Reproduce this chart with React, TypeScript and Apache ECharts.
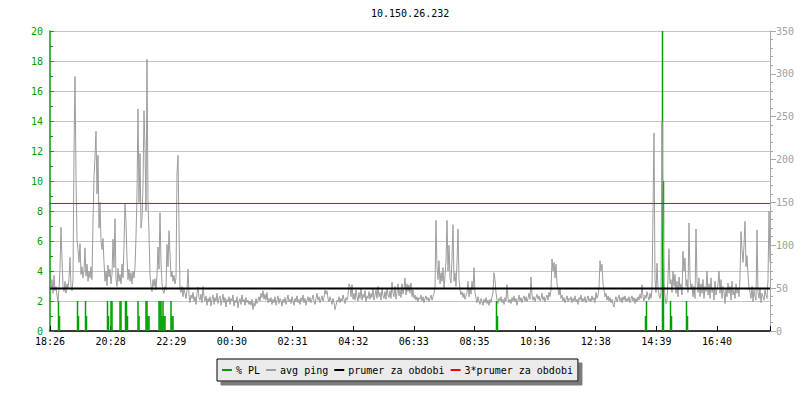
import { useEffect, useRef } from 'react';
import * as echarts from 'echarts';

const TITLE = '10.150.26.232';
const STEP_MIN = 2; // minutes between ping samples
const RANGE_MIN = 1440;
const TIME_LABELS = ['18:26', '20:28', '22:29', '00:30', '02:31', '04:32', '06:33', '08:35', '10:36', '12:38', '14:39', '16:40'];
const TICK_STEP = 1334 / 11;

// avg ping [ms], one sample every 2 minutes (20 samples per row)
const PING_MS = [
  56, 48, 60, 44, 65, 47, 52, 41, 35, 50, 72, 121, 85, 52, 46, 58, 44, 55, 49, 62,
  86, 52, 47, 60, 210, 297, 180, 107, 95, 80, 102, 66, 75, 62, 70, 97, 64, 78, 58, 70,
  62, 75, 60, 128, 180, 203, 233, 160, 205, 120, 150, 105, 95, 108, 80, 58, 70, 53, 77, 63,
  72, 55, 66, 107, 74, 131, 60, 52, 73, 58, 66, 55, 78, 62, 100, 149, 128, 85, 60, 72,
  58, 68, 55, 70, 62, 74, 110, 161, 259, 150, 207, 120, 131, 170, 257, 213, 140, 317, 150, 114,
  65, 53, 46, 60, 52, 61, 48, 66, 98, 72, 138, 80, 55, 47, 44, 52, 48, 101, 75, 117,
  90, 63, 70, 58, 65, 55, 62, 184, 205, 120, 48, 45, 52, 40, 49, 44, 38, 47, 72, 42,
  33, 42, 38, 45, 35, 40, 31, 44, 51, 39, 36, 43, 33, 52, 40, 35, 41, 30, 38, 34,
  40, 29, 37, 42, 31, 39, 35, 44, 32, 38, 41, 30, 36, 43, 33, 39, 28, 37, 34, 40,
  31, 38, 35, 42, 29, 36, 33, 40, 27, 35, 38, 31, 42, 34, 37, 30, 39, 33, 36, 31,
  35, 30, 37, 25, 33, 29, 38, 32, 36, 40, 35, 44, 39, 47, 37, 43, 36, 45, 33, 38,
  34, 39, 31, 37, 33, 40, 30, 36, 41, 32, 38, 35, 29, 37, 33, 39, 31, 36, 42, 34,
  37, 32, 40, 35, 30, 38, 34, 41, 33, 37, 31, 39, 35, 42, 33, 38, 30, 36, 40, 34,
  39, 33, 37, 42, 35, 31, 38, 44, 36, 40, 33, 37, 41, 35, 39, 48, 43, 47, 38, 34,
  40, 36, 31, 38, 33, 25, 30, 36, 34, 40, 33, 38, 35, 42, 37, 32, 39, 36, 41, 55,
  52, 40, 54, 37, 44, 36, 48, 40, 35, 45, 38, 50, 36, 43, 39, 47, 34, 41, 38, 46,
  37, 44, 39, 50, 36, 42, 48, 38, 52, 40, 45, 36, 49, 41, 38, 46, 37, 50, 42, 39,
  47, 38, 57, 44, 40, 52, 37, 45, 55, 41, 48, 39, 55, 43, 50, 62, 42, 55, 46, 54,
  44, 56, 40, 48, 38, 42, 36, 40, 34, 39, 37, 42, 35, 40, 33, 38, 41, 36, 39, 34,
  38, 42, 36, 40, 44, 50, 129, 75, 60, 82, 55, 68, 58, 74, 50, 64, 82, 129, 70, 100,
  62, 56, 85, 124, 58, 68, 52, 80, 119, 60, 48, 42, 46, 39, 44, 37, 41, 45, 58, 40,
  50, 43, 58, 48, 74, 45, 38, 33, 40, 35, 31, 38, 34, 30, 37, 33, 39, 32, 36, 30,
  37, 33, 40, 45, 68, 60, 45, 36, 32, 38, 35, 40, 33, 37, 31, 39, 35, 54, 38, 33,
  37, 32, 39, 35, 41, 34, 38, 30, 36, 42, 35, 39, 33, 38, 41, 35, 40, 34, 38, 44,
  37, 63, 42, 36, 40, 34, 39, 43, 37, 41, 35, 38, 44, 36, 40, 34, 39, 42, 36, 45,
  40, 48, 84, 70, 80, 62, 78, 55, 48, 42, 50, 38, 42, 35, 39, 33, 37, 41, 34, 38,
  36, 40, 33, 38, 35, 41, 34, 37, 31, 39, 36, 42, 34, 38, 35, 40, 33, 37, 41, 35,
  38, 34, 41, 36, 39, 33, 45, 38, 42, 50, 82, 70, 78, 55, 48, 40, 44, 36, 41, 35,
  39, 33, 37, 31, 28, 36, 40, 34, 38, 42, 35, 39, 33, 40, 36, 41, 34, 38, 35, 40,
  33, 37, 41, 35, 39, 32, 38, 34, 40, 36, 43, 38, 54, 40, 35, 42, 38, 46, 40, 36,
  44, 38, 48, 140, 231, 60, 45, 79, 50, 42, 38, 45, 245, 140, 55, 40, 32, 36, 62, 96,
  55, 60, 45, 70, 52, 66, 44, 58, 40, 63, 48, 55, 42, 93, 70, 85, 52, 60, 45, 126,
  62, 48, 55, 40, 52, 38, 119, 58, 45, 62, 40, 55, 44, 60, 38, 52, 46, 70, 42, 55,
  38, 62, 45, 50, 36, 58, 42, 48, 55, 70, 44, 60, 38, 52, 46, 32, 50, 40, 56, 44,
  52, 36, 58, 42, 48, 38, 55, 44, 50, 40, 62, 116, 95, 80, 100, 128, 75, 88, 66, 50,
  45, 38, 52, 34, 48, 40, 36, 118, 45, 38, 50, 33, 44, 40, 36, 48, 42, 38, 60, 140,
  80,
];

// packet loss events: minute offset from start, loss [%]
const PL_MIN = [17, 19, 55, 57, 71, 73, 115, 117, 122, 124, 140, 142, 151, 153, 155, 176, 178, 192, 194, 196, 198, 218, 220, 222, 224, 226, 228, 230, 242, 244, 246, 893, 895, 1191, 1193, 1225, 1227, 1241, 1243, 1273, 1275];
const PL_PCT = [2, 1, 2, 1, 2, 1, 2, 1, 2, 2, 2, 2, 2, 2, 1, 2, 1, 2, 2, 1, 1, 2, 2, 2, 1, 2, 1, 1, 2, 1, 1, 2, 1, 1, 2, 20, 10, 2, 1, 2, 1];

const MEAN_MS = 49.6;
const SERIES_NAMES = ['% PL', 'avg ping', 'prumer za obdobi', '3*prumer za obdobi'];

const GREEN = '#00a000';
const GRAY = '#9c9c9c';
const FONT = 'DejaVu Sans Mono';

export default function App() {
  const ref = useRef<HTMLDivElement>(null);
  useEffect(() => {
    const chart = echarts.init(ref.current!, null, { renderer: 'svg' });
    chart.setOption({
      animation: false,
      backgroundColor: '#ffffff',
      title: {
        text: TITLE,
        left: 371,
        top: 8,
        padding: 0,
        textStyle: { fontFamily: FONT, fontSize: 10, fontWeight: 'normal', color: '#000' },
      },
      legend: {
        data: SERIES_NAMES.map((name) => ({ name, icon: 'rect' })),
        left: 217,
        top: 359,
        padding: [6, 5, 6, 5],
        itemGap: 6,
        itemWidth: 10,
        itemHeight: 2,
        selectedMode: false,
        backgroundColor: '#ebebeb',
        borderColor: '#000',
        borderWidth: 1,
        borderRadius: 0,
        shadowColor: '#7a7a7a',
        shadowBlur: 0,
        shadowOffsetX: 4,
        shadowOffsetY: 4,
        textStyle: { fontFamily: FONT, fontSize: 10, color: '#000', padding: [0, 0, 0, -1] },
      },
      grid: { left: 50, right: 30, top: 31, bottom: 69, containLabel: false },
      xAxis: {
        type: 'value',
        min: 0,
        max: RANGE_MIN,
        interval: TICK_STEP,
        axisLine: { show: true, lineStyle: { color: '#000', width: 1.5 } },
        axisTick: { show: true, inside: true, length: 5, lineStyle: { color: '#000' } },
        axisLabel: {
          fontFamily: FONT,
          fontSize: 10,
          color: '#000',
          margin: 5,
          hideOverlap: false,
          formatter: (v: number) => {
            const k = Math.round(v / TICK_STEP);
            if (Math.abs(v - k * TICK_STEP) > 0.5 || k >= TIME_LABELS.length) return '';
            return TIME_LABELS[k];
          },
        },
        splitLine: { show: false },
      },
      yAxis: [
        {
          type: 'value',
          position: 'left',
          min: 0,
          max: 20,
          interval: 2,
          axisLine: { show: true, lineStyle: { color: GREEN, width: 1.5 } },
          axisTick: { show: true, inside: true, length: 4, lineStyle: { color: GREEN } },
          minorTick: { show: true, splitNumber: 2, length: 3, lineStyle: { color: GREEN } },
          axisLabel: { fontFamily: FONT, fontSize: 10, color: GREEN, margin: 7 },
          splitLine: { show: true, lineStyle: { color: '#c4c4c4', width: 1 } },
        },
        {
          type: 'value',
          position: 'right',
          min: 0,
          max: 350,
          interval: 50,
          axisLine: { show: true, lineStyle: { color: '#a8a8a8', width: 1 } },
          axisTick: { show: true, inside: false, length: 6, lineStyle: { color: '#a8a8a8' } },
          minorTick: { show: true, splitNumber: 5, length: 3, lineStyle: { color: '#a8a8a8' } },
          axisLabel: { fontFamily: FONT, fontSize: 10, color: '#a0a0a0', margin: 6 },
          splitLine: { show: false },
        },
      ],
      series: [
        {
          name: SERIES_NAMES[0],
          type: 'bar',
          xAxisIndex: 0,
          yAxisIndex: 0,
          barWidth: 1.5,
          itemStyle: { color: GREEN },
          data: PL_MIN.map((m, i) => [m, PL_PCT[i]]),
        },
        {
          name: SERIES_NAMES[1],
          type: 'line',
          yAxisIndex: 1,
          symbol: 'none',
          showSymbol: false,
          itemStyle: { color: GRAY },
          lineStyle: { color: GRAY, width: 1 },
          data: PING_MS.map((v, i) => [i * STEP_MIN, v]),
        },
        {
          name: SERIES_NAMES[2],
          type: 'line',
          yAxisIndex: 1,
          symbol: 'none',
          showSymbol: false,
          itemStyle: { color: '#000' },
          lineStyle: { color: '#000', width: 2 },
          data: [[0, MEAN_MS], [RANGE_MIN, MEAN_MS]],
        },
        {
          name: SERIES_NAMES[3],
          type: 'line',
          yAxisIndex: 1,
          symbol: 'none',
          showSymbol: false,
          itemStyle: { color: '#ff0000' },
          lineStyle: { color: '#ee0000', width: 1 },
          data: [[0, 3 * MEAN_MS], [RANGE_MIN, 3 * MEAN_MS]],
        },
      ],
    });
    return () => chart.dispose();
  }, []);
  return <div ref={ref} style={{ position: 'fixed', left: 0, top: 0, width: 800, height: 400 }} />;
}
